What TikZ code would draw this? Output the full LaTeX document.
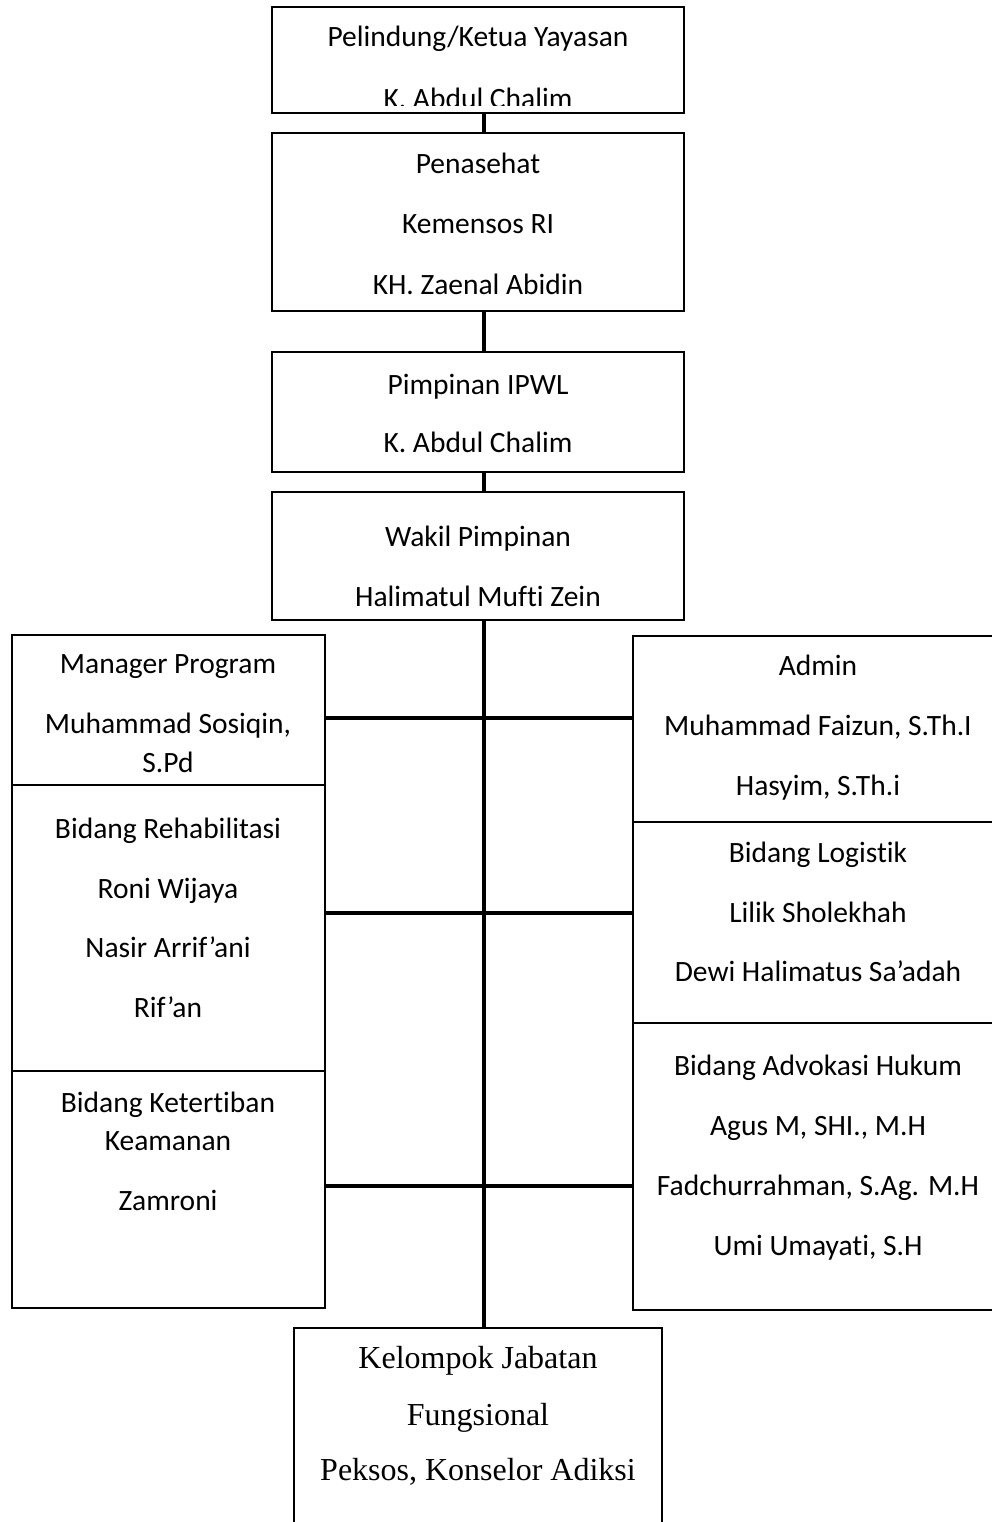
\documentclass[tikz,border=0pt]{standalone}
\usepackage{fontspec}
\setmainfont[Ligatures={NoCommon,NoContextual},Contextuals={NoAlternate}]{Carlito}
\newfontfamily\tnr{Liberation Serif}
\begin{document}
\begin{tikzpicture}[x=1pt,y=-1pt,
  box/.style={draw,line width=2.5pt,rectangle,inner sep=0pt},
  lbl/.style={anchor=base,inner sep=0pt,font=\fontsize{29.5}{35}\selectfont},
  slbl/.style={anchor=base,inner sep=0pt,font=\tnr\fontsize{32}{38}\selectfont},
  link/.style={line width=3.4pt},
  trunk/.style={line width=4.4pt}]
\useasboundingbox (0,0) rectangle (992,1522);
\fill[white] (0,0) rectangle (992,1522);
% boxes
\node[box,minimum width=412,minimum height=106] (b1) at (478,60) {};
\node[box,minimum width=412,minimum height=178] (b2) at (478,222) {};
\node[box,minimum width=412,minimum height=120] (b3) at (478,412) {};
\node[box,minimum width=412,minimum height=128] (b4) at (478,556) {};
\node[box,minimum width=313,minimum height=150] (m1) at (168.5,710) {};
\node[box,minimum width=313,minimum height=286] (m2) at (168.5,928) {};
\node[box,minimum width=313,minimum height=237] (m3) at (168.5,1189.5) {};
\node[box,minimum width=367,minimum height=186] (r1) at (816.5,729) {};
\node[box,minimum width=367,minimum height=201] (r2) at (816.5,922.5) {};
\node[box,minimum width=367,minimum height=287] (r3) at (816.5,1166.5) {};
\node[box,minimum width=368,minimum height=207] (b8) at (478,1431.5) {};
% texts
\node[lbl] (t1a) at (478,47) {Pelindung/Ketua Yayasan};
\begin{scope}
\clip (272,7) rectangle (684,106);
\node[lbl] (t1b) at (478,109) {K. Abdul Chalim};
\end{scope}
\node[lbl] (t2a) at (478,174) {Penasehat};
\node[lbl] (t2b) at (478,234) {Kemensos RI};
\node[lbl] (t2c) at (478,294) {KH. Zaenal Abidin};
\node[lbl] (t3a) at (478,394) {Pimpinan IPWL};
\node[lbl] (t3b) at (478,452) {K. Abdul Chalim};
\node[lbl] (t4a) at (478,546) {Wakil Pimpinan};
\node[lbl] (t4b) at (478,606) {Halimatul Mufti Zein};
\node[lbl] (m1a) at (168,673) {Manager Program};
\node[lbl] (m1b) at (168,733) {Muhammad Sosiqin,};
\node[lbl] (m1c) at (168,772) {S.Pd};
\node[lbl] (m2a) at (168,838) {Bidang Rehabilitasi};
\node[lbl] (m2b) at (168,898) {Roni Wijaya};
\node[lbl] (m2c) at (168,957) {Nasir Arrif’ani};
\node[lbl] (m2d) at (168,1017) {Rif’an};
\node[lbl] (m3a) at (168,1112) {Bidang Ketertiban};
\node[lbl] (m3b) at (168,1150) {Keamanan};
\node[lbl] (m3c) at (168,1210) {Zamroni};
\node[lbl] (r1a) at (818,675) {Admin};
\node[lbl] (r1b) at (818,735) {Muhammad Faizun, S.Th.I};
\node[lbl] (r1c) at (818,795) {Hasyim, S.Th.i};
\node[lbl] (r2a) at (818,862) {Bidang Logistik};
\node[lbl] (r2b) at (818,922) {Lilik Sholekhah};
\node[lbl] (r2c) at (818,981) {Dewi Halimatus Sa’adah};
\node[lbl] (r3a) at (818,1075) {Bidang Advokasi Hukum};
\node[lbl] (r3b) at (818,1135) {Agus M, SHI., M.H};
\node[lbl] (r3c) at (818,1195) {Fadchurrahman, S.Ag. M.H};
\node[lbl] (r3d) at (818,1255) {Umi Umayati, S.H};
\node[slbl] (b8a) at (478,1368) {Kelompok Jabatan};
\node[slbl] (b8b) at (478,1425) {Fungsional};
\node[slbl] (b8c) at (478,1480) {Peksos, Konselor Adiksi};
% connectors
\coordinate (tx) at (484,0);
\coordinate (h1) at (0,718);
\coordinate (h2) at (0,913);
\coordinate (h3) at (0,1186);
\draw[link] (b1.south -| tx) -- (b2.north -| tx);
\draw[link] (b2.south -| tx) -- (b3.north -| tx);
\draw[link] (b3.south -| tx) -- (b4.north -| tx);
\draw[trunk] (b4.south -| tx) -- (b8.north -| tx);
\draw[link] (m1.east |- h1) -- (r1.west |- h1);
\draw[link] (m2.east |- h2) -- (r2.west |- h2);
\draw[link] (m3.east |- h3) -- (r3.west |- h3);
\end{tikzpicture}
\end{document}
